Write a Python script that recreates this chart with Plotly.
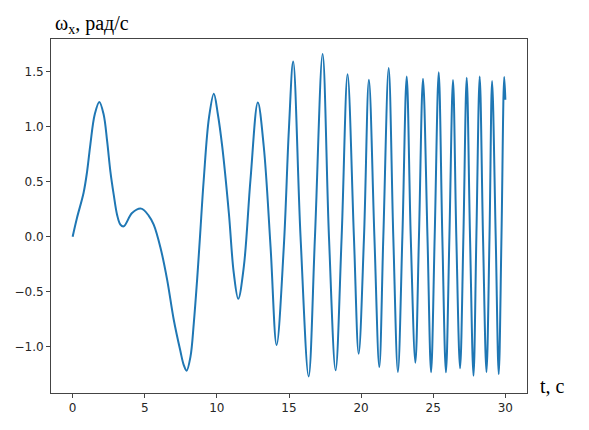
import plotly.graph_objects as go

# Time (s) and angular rate omega_x (rad/s)
t_vals = [0.00, 0.30, 0.76, 1.00, 1.23, 1.53, 1.85, 2.15, 2.39, 2.62, 2.85, 3.08, 3.31, 3.54,
          4.12, 4.75, 5.28, 5.62, 6.09, 6.55, 7.01, 7.47, 7.70, 7.90, 8.17, 8.40, 8.63, 8.83,
          9.09, 9.45, 9.79, 10.06, 10.37, 10.83, 11.17, 11.48, 11.87, 12.33, 12.84, 13.25, 13.72,
          14.14, 14.64, 14.99, 15.29, 15.80, 16.36, 16.80, 17.33, 17.77, 18.23, 18.65,
          19.06, 19.50, 19.83, 20.20, 20.54, 20.92, 21.26, 21.54, 21.91, 22.23, 22.55,
          22.86, 23.16, 23.44, 23.76, 24.01, 24.29, 24.60, 24.85, 25.10, 25.38, 25.63,
          25.88, 26.12, 26.37, 26.60, 26.86, 27.09, 27.32, 27.55, 27.79, 27.99, 28.22,
          28.45, 28.69, 28.90, 29.08, 29.33, 29.54, 29.73, 29.92, 30.00]
w_vals = [0.00, 0.17, 0.40, 0.59, 0.84, 1.11, 1.225, 1.11, 0.87, 0.59, 0.38, 0.20, 0.11, 0.094,
          0.215, 0.255, 0.19, 0.11, -0.10, -0.39, -0.755, -1.04, -1.165, -1.218, -1.09, -0.785,
          -0.39, 0.00, 0.52, 1.08, 1.30, 1.12, 0.82, 0.215, -0.33, -0.565, -0.27, 0.52, 1.22, 0.82,
          -0.09, -0.985, -0.09, 0.97, 1.593, 0.00, -1.27, 0.00, 1.66, 0.00, -1.215, 0.00,
          1.476, 0.00, -1.064, 0.00, 1.427, 0.00, -1.185, 0.00, 1.533, 0.00, -1.23,
          0.00, 1.455, 0.00, -1.145, 0.00, 1.436, 0.00, -1.233, 0.00, 1.494, 0.00,
          -1.233, 0.00, 1.424, 0.00, -1.197, 0.00, 1.445, 0.00, -1.264, 0.00, 1.457,
          0.00, -1.23, 0.00, 1.415, 0.00, -1.249, 0.00, 1.452, 1.245]

x_ticks = [0, 5, 10, 15, 20, 25, 30]
y_ticks = [-1.0, -0.5, 0.0, 0.5, 1.0, 1.5]
y_label = "ω<sub>x</sub>, рад/с"
x_label = "t, с"

fig = go.Figure()
fig.add_trace(go.Scatter(x=t_vals, y=w_vals, mode="lines",
                         line=dict(color="#1f77b4", width=2, shape="spline", smoothing=1.0),
                         showlegend=False, hoverinfo="skip"))

axis_common = dict(showgrid=False, zeroline=False, showline=True, mirror=True,
                   linecolor="#444444", linewidth=1, ticks="outside", ticklen=4,
                   tickwidth=1, tickcolor="#444444", automargin=False,
                   tickfont=dict(family="DejaVu Sans", size=12, color="#262626"))

fig.update_xaxes(range=[-1.5, 31.5], tickvals=x_ticks, **axis_common)
fig.update_yaxes(range=[-1.421, 1.797], tickvals=y_ticks, tickformat=".1f", **axis_common)

fig.add_annotation(text=y_label, xref="paper", yref="paper", x=0.004, y=1.04,
                   xanchor="left", yanchor="middle", showarrow=False,
                   font=dict(family="Liberation Serif", size=20, color="#000000"))
fig.add_annotation(text=x_label, xref="paper", yref="paper", x=1.023, y=0.02,
                   xanchor="left", yanchor="middle", showarrow=False,
                   font=dict(family="Liberation Serif", size=20, color="#000000"))

# the page body has an 8px default margin, so the figure is offset by 8px
fig.update_layout(width=589, height=430, margin=dict(l=43, r=70, t=31, b=45),
                  plot_bgcolor="white", paper_bgcolor="white")

fig.write_html("out.html")
